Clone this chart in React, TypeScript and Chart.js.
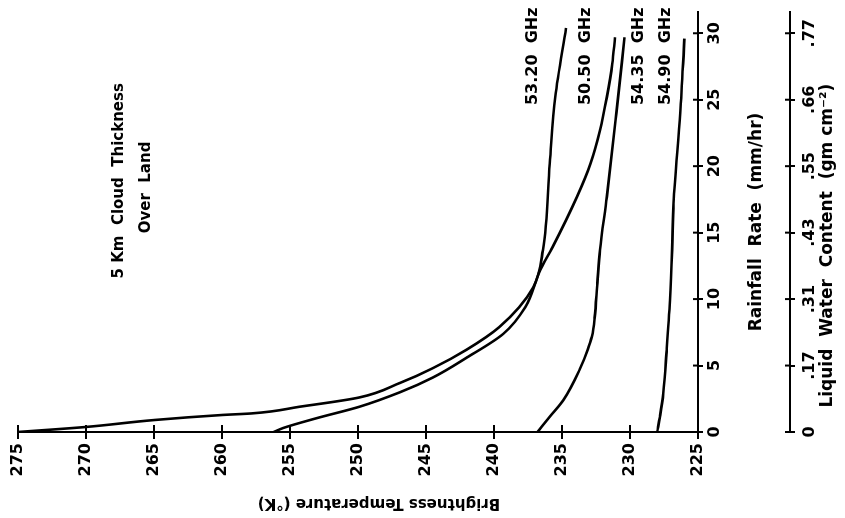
import { useEffect, useRef } from 'react';
import { Chart, registerables } from 'chart.js';

Chart.register(...registerables);

// ---- data (original, unrotated orientation: x = rainfall, y = brightness temperature) ----
const rainTicks = [0, 5, 10, 15, 20, 25, 30];
const lwcTickLabels = ['0', '.17', '.31', '.43', '.55', '.66', '.77'];
const tempTicks = [225, 230, 235, 240, 245, 250, 255, 260, 265, 270, 275];

const seriesNames = ['53.20', '50.50', '54.35', '54.90'];

const rain5320 = [0, 0.38, 0.9, 1.28, 1.4, 1.9, 2.6, 3.7, 4.8, 6.2, 7.9, 10.9, 13.7, 20.2, 25.2, 30.4];
const temp5320 = [275, 270, 265, 260, 257.8, 254.3, 249.9, 246.9, 244.5, 242.0, 239.6, 237.1, 236.4, 235.9, 235.5, 234.7];

const rain5050 = [0, 0.3, 1.05, 1.9, 3.0, 4.1, 5.6, 7.4, 9.4, 12.2, 13.9, 17.7, 20.2, 22.7, 25.2, 27.7, 29.7];
const temp5050 = [256.2, 255.5, 253.0, 249.9, 246.9, 244.5, 242.0, 239.3, 237.7, 236.6, 235.7, 233.9, 232.9, 232.2, 231.7, 231.3, 231.1];

const rain5435 = [0, 1.15, 2.4, 4.7, 6.2, 7.2, 8.6, 11.2, 13.7, 17.7, 24.0, 29.7];
const temp5435 = [236.8, 235.9, 234.9, 233.7, 233.1, 232.8, 232.6, 232.4, 232.2, 231.7, 231.0, 230.4];

const rain5490 = [0, 1.15, 2.9, 6.2, 9.9, 13.7, 17.2, 24.0, 29.6];
const temp5490 = [228.0, 227.8, 227.55, 227.3, 227.06, 226.9, 226.8, 226.3, 226.0];

const seriesRain = [rain5320, rain5050, rain5435, rain5490];
const seriesTemp = [temp5320, temp5050, temp5435, temp5490];

// curve label anchors (data coordinates)
const labelRain = 24.6;
const labelTemps = [237.17, 233.27, 229.34, 227.35];

// chart caption
const captionLines = ['5 Km  Cloud  Thickness', 'Over  Land'];
const captionRain = [18.9, 18.4];
const captionTemp = [267.6, 265.6];

const INK = '#000';
const FAMILY = '"DejaVu Sans", "Liberation Sans", sans-serif';

const overlayPlugin = {
  id: 'overlay',
  afterDraw(chart: any) {
    const { ctx, scales } = chart;
    const x = scales.x;
    const x2 = scales.x2;
    const y = scales.y;
    ctx.save();
    ctx.strokeStyle = INK;
    ctx.lineWidth = 2;
    ctx.beginPath();
    for (const t of rainTicks) {
      const px = x.getPixelForValue(t);
      ctx.moveTo(px, x.top);
      ctx.lineTo(px, x.top - 5);
      const px2 = x2.getPixelForValue(t);
      ctx.moveTo(px2, x2.top);
      ctx.lineTo(px2, x2.top - 5);
    }
    for (const t of tempTicks) {
      const py = y.getPixelForValue(t);
      ctx.moveTo(y.right, py);
      ctx.lineTo(y.right + 7, py);
    }
    ctx.stroke();

    ctx.fillStyle = INK;
    ctx.font = `bold 16px ${FAMILY}`;
    ctx.textAlign = 'left';
    ctx.textBaseline = 'middle';
    seriesNames.forEach((name, i) => {
      ctx.fillText(`${name}  GHz`, x.getPixelForValue(labelRain), y.getPixelForValue(labelTemps[i]));
    });

    ctx.textAlign = 'center';
    ctx.font = `bold 15px ${FAMILY}`;
    captionLines.forEach((line, i) => {
      ctx.fillText(line, x.getPixelForValue(captionRain[i]), y.getPixelForValue(captionTemp[i]));
    });
    ctx.restore();
  },
};

export default function App() {
  const canvasRef = useRef<HTMLCanvasElement | null>(null);

  useEffect(() => {
    const canvas = canvasRef.current;
    if (!canvas) return;
    const tickFont = { family: FAMILY, size: 16, weight: 'bold' as const };
    const chart = new Chart(canvas, {
      type: 'scatter',
      data: {
        datasets: seriesNames.map((name, i) => ({
          label: `${name} GHz`,
          data: seriesRain[i].map((r, j) => ({ x: r, y: seriesTemp[i][j] })),
          showLine: true,
          borderColor: INK,
          borderWidth: 2.6,
          pointRadius: 0,
          cubicInterpolationMode: 'monotone' as const,
          fill: false,
        })),
      },
      options: {
        responsive: false,
        animation: false,
        devicePixelRatio: 1,
        events: [],
        layout: { padding: { top: 18, right: 12, left: 0, bottom: 0 } },
        plugins: { legend: { display: false }, tooltip: { enabled: false } },
        scales: {
          x: {
            type: 'linear',
            position: 'bottom',
            min: 0,
            max: 31.6,
            afterBuildTicks: (s: any) => {
              s.ticks = rainTicks.map((v) => ({ value: v }));
            },
            afterFit: (s: any) => {
              s.height = 92;
            },
            grid: { drawOnChartArea: false, tickLength: 5, lineWidth: 2, color: INK },
            border: { display: true, width: 2, color: INK },
            ticks: { color: INK, font: tickFont, padding: 2, maxRotation: 0, minRotation: 0, autoSkip: false },
            title: {
              display: true,
              text: 'Rainfall  Rate  (mm/hr)',
              color: INK,
              font: { family: FAMILY, size: 17, weight: 'bold', lineHeight: 1.2 },
              padding: { top: 0, bottom: 22.8 },
            },
          },
          x2: {
            type: 'linear',
            axis: 'x',
            position: 'bottom',
            min: 0,
            max: 31.6,
            afterBuildTicks: (s: any) => {
              s.ticks = rainTicks.map((v) => ({ value: v }));
            },
            afterFit: (s: any) => {
              s.height = 55;
            },
            grid: { drawOnChartArea: false, tickLength: 5, lineWidth: 2, color: INK },
            border: { display: true, width: 2, color: INK },
            ticks: {
              color: INK,
              font: tickFont,
              padding: 5,
              maxRotation: 0,
              minRotation: 0,
              autoSkip: false,
              callback: (value: any) => lwcTickLabels[rainTicks.indexOf(Number(value))] ?? '',
            },
            title: {
              display: true,
              text: 'Liquid  Water  Content  (gm cm⁻²)        ',
              color: INK,
              font: { family: FAMILY, size: 17, weight: 'bold', lineHeight: 1.2 },
              padding: { top: 0, bottom: 6.8 },
            },
          },
          y: {
            type: 'linear',
            position: 'left',
            min: 225,
            max: 275,
            afterFit: (s: any) => {
              s.width = 86;
            },
            grid: { drawOnChartArea: false, tickLength: 7, lineWidth: 2, color: INK },
            border: { display: true, width: 2, color: INK },
            ticks: { stepSize: 5, color: INK, font: tickFont, padding: 4 },
            title: {
              display: true,
              text: 'Brightness Temperature (°K)        ',
              color: INK,
              font: { family: FAMILY, size: 15, weight: 'bold', lineHeight: 1.2 },
              padding: { top: 6, bottom: 0 },
            },
          },
        },
      },
      plugins: [overlayPlugin],
    } as any);
    return () => chart.destroy();
  }, []);

  return (
    <div
      style={{
        position: 'fixed',
        left: 0,
        top: 0,
        width: 845,
        height: 518,
        overflow: 'hidden',
        background: '#fff',
      }}
    >
      <div
        style={{
          position: 'absolute',
          left: 0,
          top: 0,
          width: 518,
          height: 845,
          transformOrigin: '0 0',
          transform: 'translateY(518px) rotate(-90deg)',
        }}
      >
        <canvas ref={canvasRef} width={518} height={845} style={{ display: 'block' }} />
      </div>
    </div>
  );
}
